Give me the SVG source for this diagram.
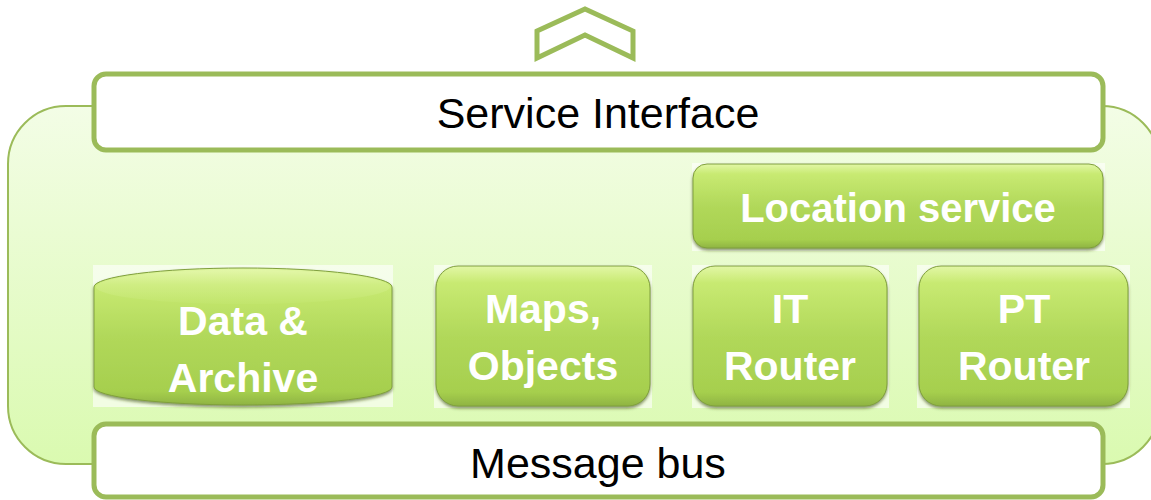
<svg xmlns="http://www.w3.org/2000/svg" width="1151" height="500" viewBox="0 0 1151 500">
<defs>
<linearGradient id="bg" x1="0" y1="0" x2="0" y2="1">
<stop offset="0" stop-color="#f3fde6"/>
<stop offset="1" stop-color="#dafab0"/>
</linearGradient>
<linearGradient id="node" x1="0" y1="0" x2="0" y2="1">
<stop offset="0" stop-color="#e2f7a6"/>
<stop offset="0.12" stop-color="#c8ea72"/>
<stop offset="0.5" stop-color="#b1d85a"/>
<stop offset="0.9" stop-color="#a6cf4e"/>
<stop offset="1" stop-color="#8fb442"/>
</linearGradient>
<linearGradient id="cap" x1="0" y1="0" x2="0" y2="1">
<stop offset="0" stop-color="#e6f8b0"/>
<stop offset="1" stop-color="#c4e770"/>
</linearGradient>
<filter id="sh" x="-5%" y="-5%" width="110%" height="115%">
<feDropShadow dx="0" dy="2" stdDeviation="1.5" flood-color="#3d5010" flood-opacity="0.6"/>
</filter>
<style>
.frame{fill:#ffffff;stroke:#9bbb59;stroke-width:5}
.lbl{font-family:"Liberation Sans",Arial,sans-serif;font-size:43px;fill:#000;text-anchor:middle}
.nl{font-family:"Liberation Sans",Arial,sans-serif;font-size:41px;font-weight:bold;fill:#fff;text-anchor:middle}
.nb{fill:url(#node);stroke:#7f9f3c;stroke-width:1;filter:url(#sh)}
.wb{fill:#ffffff;opacity:0.6}
</style>
</defs>
<g id="container">
<rect x="8" y="106" width="1152" height="358" rx="58" ry="58" fill="url(#bg)" stroke="#9bbb59" stroke-width="2"/>
</g>
<g id="arrow">
<polygon points="537,31 585,9 633,31 633,58 585,35 537,58" fill="#fff" stroke="#9bbb59" stroke-width="5" stroke-linejoin="miter"/>
</g>
<g id="service-interface">
<rect class="frame" x="94" y="74" width="1009" height="76" rx="12"/>
<text class="lbl" x="598" y="128">Service Interface</text>
</g>
<g id="location-service">
<rect class="wb" x="692" y="163" width="413" height="88"/>
<rect class="nb" x="693" y="164" width="410" height="84" rx="14"/>
<text class="nl" x="898" y="222" style="font-size:40px">Location service</text>
</g>
<g id="data-archive">
<rect class="wb" x="93" y="265" width="300" height="142"/>
<path class="nb" d="M94,287 A149,19 0 0 1 392,287 L392,387 A149,18 0 0 1 94,387 Z"/>
<ellipse cx="243" cy="287" rx="147" ry="17" fill="url(#cap)" opacity="0.5"/>
<text class="nl" x="243" y="335">Data &amp;</text>
<text class="nl" x="243" y="392">Archive</text>
</g>
<g id="maps-objects">
<rect class="wb" x="434" y="265" width="218" height="143"/>
<rect class="nb" x="436" y="266" width="214" height="140" rx="22"/>
<text class="nl" x="543" y="323">Maps,</text>
<text class="nl" x="543" y="380">Objects</text>
</g>
<g id="it-router">
<rect class="wb" x="692" y="265" width="197" height="143"/>
<rect class="nb" x="693" y="266" width="194" height="140" rx="22"/>
<text class="nl" x="790" y="323">IT</text>
<text class="nl" x="790" y="380">Router</text>
</g>
<g id="pt-router">
<rect class="wb" x="917" y="265" width="213" height="143"/>
<rect class="nb" x="919" y="266" width="209" height="140" rx="22"/>
<text class="nl" x="1024" y="323">PT</text>
<text class="nl" x="1024" y="380">Router</text>
</g>
<g id="message-bus">
<rect class="frame" x="94" y="424" width="1009" height="73" rx="12"/>
<text class="lbl" x="598" y="478">Message bus</text>
</g>
<g id="connectors"></g>
</svg>
